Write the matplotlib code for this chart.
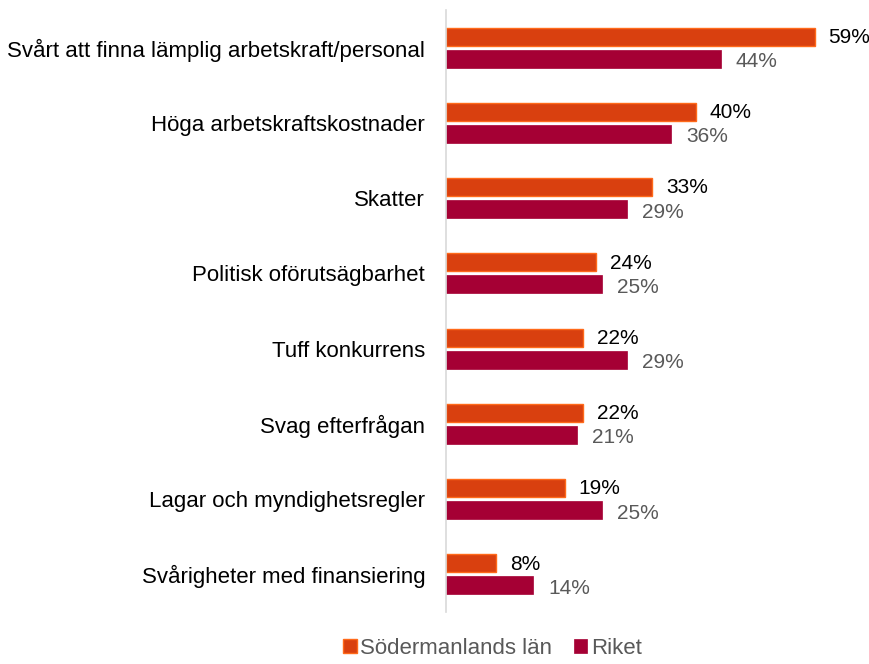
import matplotlib.pyplot as plt
import numpy as np

plt.rcParams['font.family'] = ['Liberation Sans', 'DejaVu Sans']

categories = [
    "Svårt att finna lämplig arbetskraft/personal",
    "Höga arbetskraftskostnader",
    "Skatter",
    "Politisk oförutsägbarhet",
    "Tuff konkurrens",
    "Svag efterfrågan",
    "Lagar och myndighetsregler",
    "Svårigheter med finansiering",
]
sodermanland = [59, 40, 33, 24, 22, 22, 19, 8]
riket = [44, 36, 29, 25, 29, 21, 25, 14]

fig = plt.figure(figsize=(8.7, 6.64), dpi=100)
ax = fig.add_axes([446 / 870, 52 / 664, 0.98 - 446 / 870, 602 / 664])

y = np.arange(len(categories))
h = 0.24
off = 0.145

b1 = ax.barh(y - off, sodermanland, height=h, color="#D9400F", edgecolor="#FF6A1A",
             linewidth=1, label="Södermanlands län")
b2 = ax.barh(y + off, riket, height=h, color="#A50034", edgecolor="#A50034",
             linewidth=0.5, label="Riket")

for yi, v in zip(y, sodermanland):
    ax.text(v + 2.2, yi - off + 0.01, f"{v}%", va="center", ha="left", fontsize=15, color="black")
for yi, v in zip(y, riket):
    ax.text(v + 2.4, yi + off + 0.04, f"{v}%", va="center", ha="left", fontsize=15, color="#595959")

ax.set_xlim(0, (0.98 * 870 - 446) / 6.25)
ax.set_ylim(len(categories) - 0.5, -0.5)
ax.set_yticks(y)
ax.set_yticklabels(categories, fontsize=16)
ax.tick_params(axis="y", length=0, pad=15)
ax.set_xticks([])
for s in ["top", "right", "bottom"]:
    ax.spines[s].set_visible(False)
ax.spines["left"].set_color("#D9D9D9")
ax.spines["left"].set_linewidth(1.2)

fig.legend(handles=[b1, b2], loc="lower center", bbox_to_anchor=(0.566, -0.022), ncol=2,
           frameon=False, fontsize=16, handlelength=0.6, handleheight=0.6,
           handletextpad=0.15, columnspacing=1.0, labelcolor="#595959")

fig.savefig("out.png", dpi=100)
